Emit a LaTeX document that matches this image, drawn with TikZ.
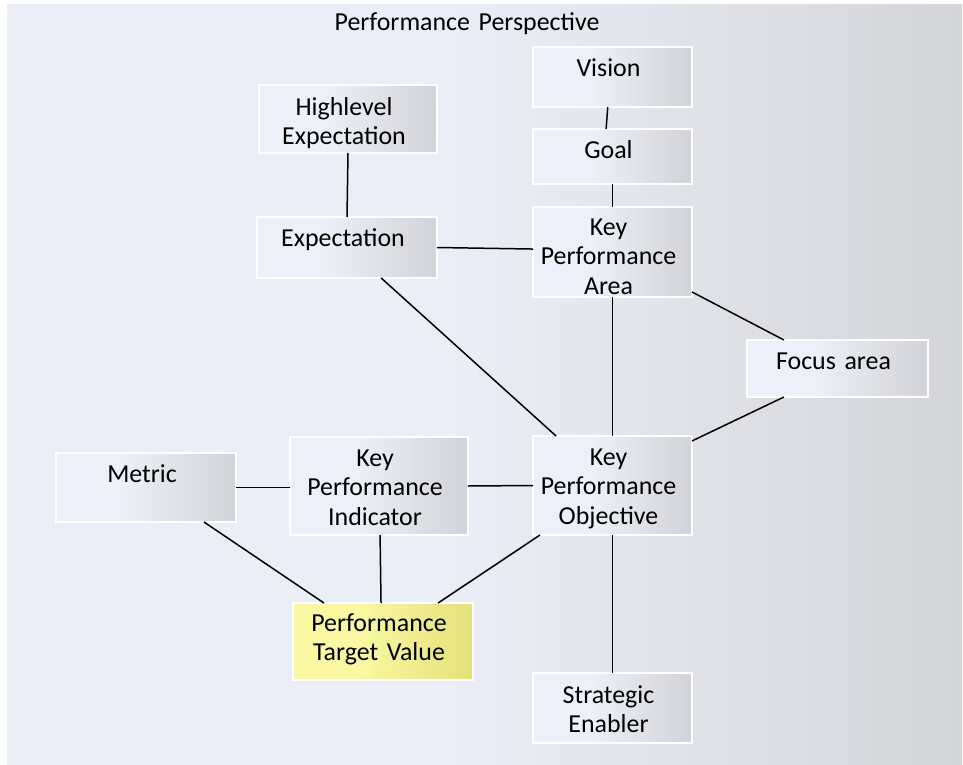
\documentclass[tikz,border=0pt]{standalone}
\usepackage{fontspec}
\setmainfont{Carlito}
\usetikzlibrary{calc}
\definecolor{bgL}{HTML}{EBEEF7}
\definecolor{bgR}{HTML}{D4D5D9}
\definecolor{boxL}{HTML}{EDF0F8}
\definecolor{boxR}{HTML}{D2D3D8}
\definecolor{ylwL}{HTML}{FAF8A2}
\definecolor{ylwR}{HTML}{E3E27A}
\pgfdeclarehorizontalshading{bgshade}{100bp}{color(0bp)=(bgL); color(48bp)=(bgL); color(75bp)=(bgR); color(100bp)=(bgR)}
\pgfdeclarehorizontalshading{boxshade}{100bp}{color(0bp)=(boxL); color(43bp)=(boxL); color(75bp)=(boxR); color(100bp)=(boxR)}
\pgfdeclarehorizontalshading{ylwshade}{100bp}{color(0bp)=(ylwL); color(43bp)=(ylwL); color(75bp)=(ylwR); color(100bp)=(ylwR)}
\tikzset{
  box/.style={rectangle, draw=white, line width=1pt, shading=boxshade, inner sep=0pt, outer sep=0pt},
  ylwbox/.style={box, shading=ylwshade},
  txt/.style={font=\fontsize{14.74pt}{17pt}\selectfont, text width=8cm, align=center, anchor=base, inner sep=0pt},
  link/.style={draw=black, line width=0.85pt}
}
\begin{document}
\begin{tikzpicture}[x=0.02cm,y=-0.02cm]
\useasboundingbox (0,0) rectangle (963,764);
\fill[white] (0,0) rectangle (963,764);
\shade[shading=bgshade] (7,4) rectangle (962,765);

% boxes
\node[box, minimum width=3.18cm, minimum height=1.2cm]  (vis)  at (612.5,77) {};
\node[box, minimum width=3.18cm, minimum height=1.1cm]  (goal) at (612.5,156.5) {};
\node[box, minimum width=3.18cm, minimum height=1.8cm]  (kpa)  at (612.5,252) {};
\node[box, minimum width=3.6cm,  minimum height=1.22cm] (exp)  at (347,247.5) {};
\node[box, minimum width=3.56cm, minimum height=1.36cm] (he)   at (348,119) {};
\node[box, minimum width=3.62cm, minimum height=1.14cm] (foc)  at (837.5,368.5) {};
\node[box, minimum width=3.18cm, minimum height=1.98cm] (kpo)  at (612.5,485.5) {};
\node[box, minimum width=3.56cm, minimum height=1.96cm] (kpi)  at (379,486) {};
\node[box, minimum width=3.6cm,  minimum height=1.38cm] (met)  at (146,487.5) {};
\node[ylwbox, minimum width=3.6cm, minimum height=1.54cm] (ptv) at (383,641.5) {};
\node[box, minimum width=3.18cm, minimum height=1.4cm]  (se)   at (612.5,708) {};

% texts
\node[txt] (title) at (467,31) {Performance Perspective};
\node[txt] (tvis)  at (608.5,76) {Vision};
\node[txt] (tgoal) at (608.5,158) {Goal};
\node[txt] (tkpa)  at (608.5,235) {Key\\Performance\\Area};
\node[txt] (texp)  at (343,246) {Expectation};
\node[txt] (the)   at (344,115) {Highlevel\\Expectation};
\node[txt] (tfoc)  at (833.5,369) {Focus area};
\node[txt] (tkpo)  at (608.5,465) {Key\\Performance\\Objective};
\node[txt] (tkpi)  at (375,466) {Key\\Performance\\Indicator};
\node[txt] (tmet)  at (142,482) {Metric};
\node[txt] (tptv)  at (379,631) {Performance\\Target Value};
\node[txt] (tse)   at (608.5,703) {Strategic\\Enabler};

% connectors
\draw[link] ($(vis.south west)!0.47!(vis.south east)$) -- ($(goal.north west)!0.46!(goal.north east)$);
\draw[link] (goal.south) -- (kpa.north);
\draw[link] (he.south) -- (exp.north);
\draw[link] (exp.east) -- ($(kpa.north west)!0.467!(kpa.south west)$);
\draw[link] ($(exp.south west)!0.69!(exp.south east)$) -- ($(kpo.north west)!0.145!(kpo.north east)$);
\draw[link] ($(kpa.north east)!0.944!(kpa.south east)$) -- ($(foc.north west)!0.204!(foc.north east)$);
\draw[link] ($(foc.south west)!0.204!(foc.south east)$) -- ($(kpo.north east)!0.05!(kpo.south east)$);
\draw[link] (kpa.south) -- (kpo.north);
\draw[link] (met.east) -- (kpi.west |- met.east);
\draw[link] (kpi.east) -- (kpo.west);
\draw[link] ($(met.south west)!0.822!(met.south east)$) -- ($(ptv.north west)!0.172!(ptv.north east)$);
\draw[link] ($(kpi.south west)!0.506!(kpi.south east)$) -- ($(ptv.north west)!0.489!(ptv.north east)$);
\draw[link] ($(kpo.south west)!0.044!(kpo.south east)$) -- ($(ptv.north west)!0.806!(ptv.north east)$);
\draw[link] (kpo.south) -- (se.north);
\end{tikzpicture}
\end{document}
